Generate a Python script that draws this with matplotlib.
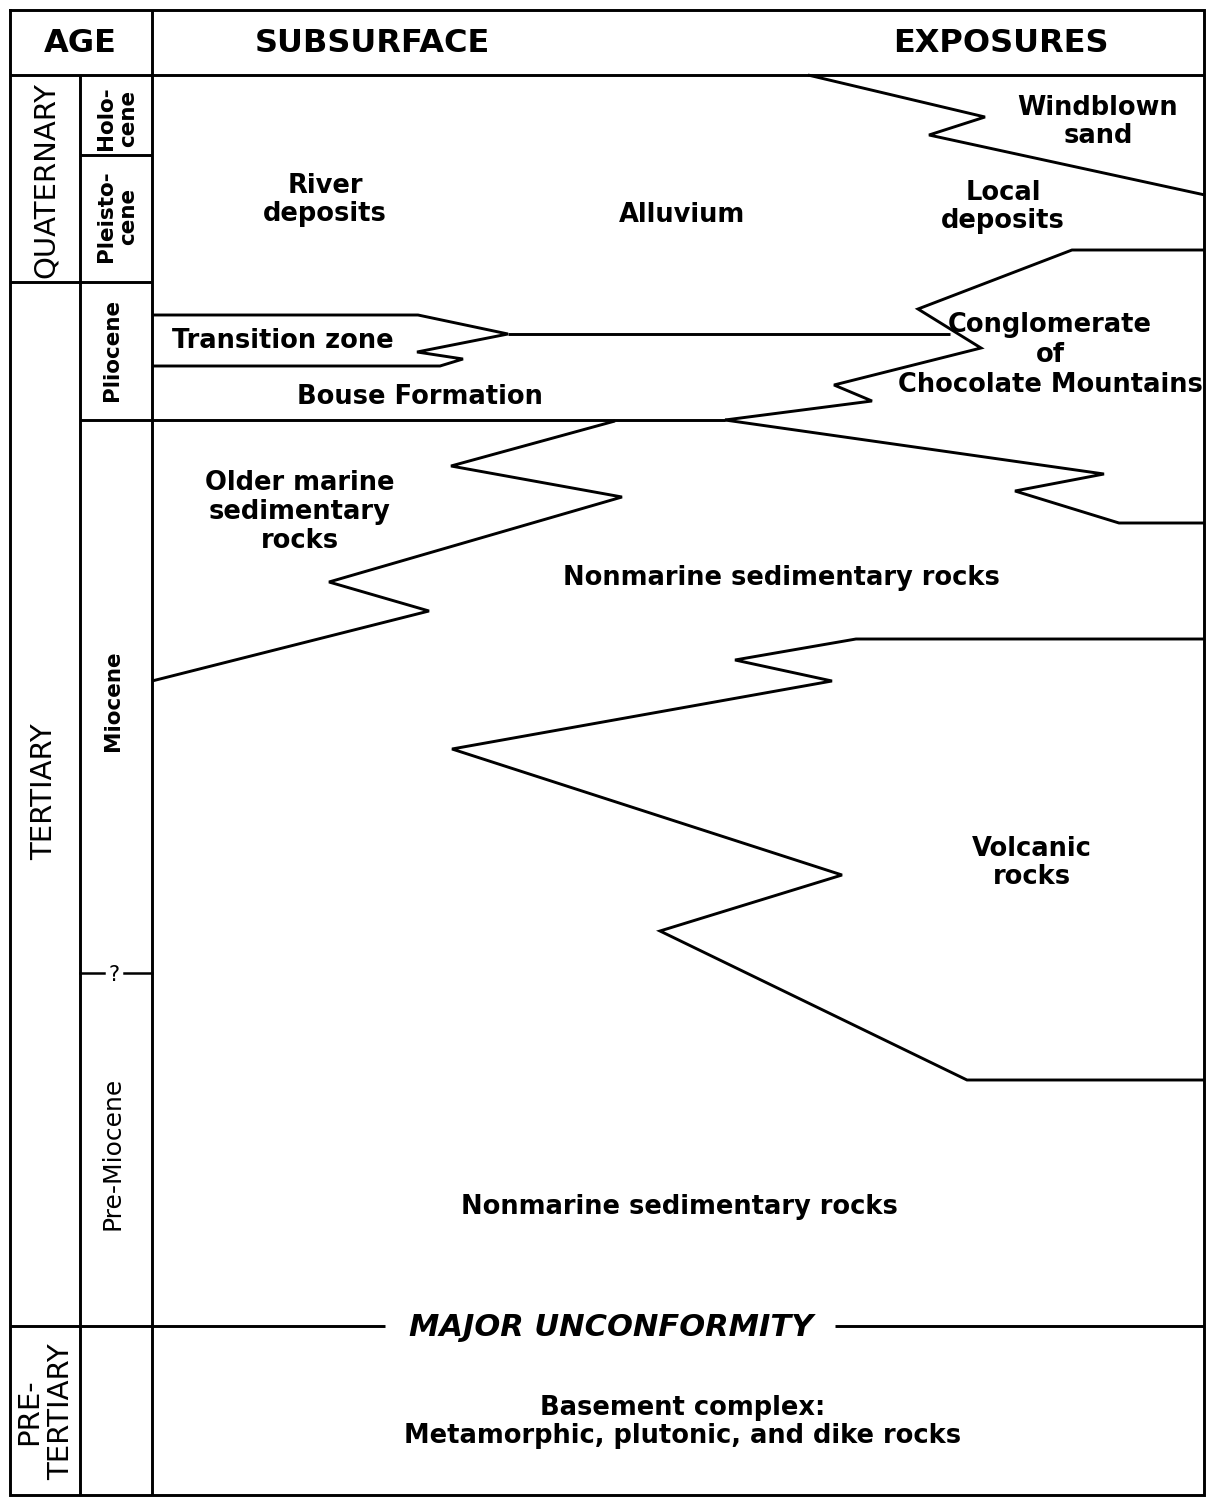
import matplotlib
matplotlib.use("Agg")
import matplotlib.pyplot as plt

# ---------------- data (pixel coordinates) ----------------
# frame / column dividers
frame_x = [10, 1204, 1204, 10, 10]
frame_y = [10, 10, 1495, 1495, 10]
header_base_y = 75
age_col_x = 152
epoch_col_x = 80

# age boundaries (y positions)
holo_pleisto_y = 155
quat_tert_y = 282
plio_mio_y = 420
mio_premio_y = 973
unconformity_y = 1326
unconf_left_end = 385
unconf_right_start = 835

# contact lines (x list, y list)
windblown_x = [808, 985, 929, 1205]
windblown_y = [75, 117, 135, 195]

local_base_x = [1205, 1072, 918, 981, 834, 872, 725]
local_base_y = [250, 250, 309, 348, 385, 401, 420]

transition_x = [152, 418, 508, 417, 463, 440, 152]
transition_y = [315, 315, 334, 352, 359, 366, 366]

transition_ext_x = [508, 950]
transition_ext_y = [334, 334]

bouse_base_x = [152, 725]
bouse_base_y = [420, 420]

congl_base_x = [725, 1104, 1015, 1119, 1205]
congl_base_y = [420, 474, 491, 523, 523]

marine_x = [615, 451, 622, 329, 429, 152]
marine_y = [421, 466, 497, 582, 611, 681]

volcanic_x = [1205, 856, 735, 832, 452, 842, 660, 967, 1205]
volcanic_y = [639, 639, 660, 681, 749, 875, 931, 1080, 1080]

# labels
header_labels = ["AGE", "SUBSURFACE", "EXPOSURES"]
header_x = [80, 372, 1001]

unit_labels = ["River\ndeposits", "Alluvium", "Windblown\nsand", "Local\ndeposits",
               "Conglomerate\nof\nChocolate Mountains", "Transition zone",
               "Bouse Formation", "Older marine\nsedimentary\nrocks",
               "Nonmarine sedimentary rocks", "Volcanic\nrocks",
               "Nonmarine sedimentary rocks",
               "Basement complex:\nMetamorphic, plutonic, and dike rocks"]
unit_x = [325, 682, 1098, 1003, 1050, 283, 420, 300, 781, 1032, 679, 683]
unit_y = [200, 215, 122, 207, 355, 341, 397, 512, 578, 863, 1207, 1422]
unit_spacing = [1.12, 1.12, 1.12, 1.12, 1.22, 1.12, 1.12, 1.15, 1.12, 1.12, 1.12, 1.12]

era_labels = ["QUATERNARY", "TERTIARY", "PRE-\nTERTIARY"]
era_x = [46, 44, 45]
era_y = [180, 792, 1412]

epoch_labels = ["Holo-\ncene", "Pleisto-\ncene", "Pliocene", "Miocene"]
epoch_x = [117, 117, 112, 113]
epoch_y = [118, 216, 350, 701]

# ---------------- drawing ----------------
plt.rcParams['font.family'] = ['DejaVu Sans']
fig = plt.figure(figsize=(12.06, 14.98), dpi=100)
ax = fig.add_axes([0, 0, 1, 1])
ax.set_xlim(0, 1206)
ax.set_ylim(1498, 0)
ax.axis('off')

LW = 2.1
kw = dict(color='black', lw=LW, solid_joinstyle='miter', solid_capstyle='butt')

ax.plot(frame_x, frame_y, color='black', lw=LW, solid_joinstyle='miter')
ax.plot([10, 1204], [header_base_y, header_base_y], **kw)
ax.plot([age_col_x, age_col_x], [10, 1495], **kw)
ax.plot([epoch_col_x, epoch_col_x], [header_base_y, 1495], **kw)
ax.plot([epoch_col_x, age_col_x], [holo_pleisto_y] * 2, **kw)
ax.plot([10, age_col_x], [quat_tert_y] * 2, **kw)
ax.plot([epoch_col_x, age_col_x], [plio_mio_y] * 2, **kw)
ax.plot([epoch_col_x, 104], [mio_premio_y] * 2, color='black', lw=1.8)
ax.plot([124, age_col_x], [mio_premio_y] * 2, color='black', lw=1.8)
ax.text(114, mio_premio_y + 2, "?", ha='center', va='center', fontsize=15)

ax.plot([10, unconf_left_end], [unconformity_y] * 2, **kw)
ax.plot([unconf_right_start, 1204], [unconformity_y] * 2, **kw)
ax.text((unconf_left_end + unconf_right_start) / 2 + 1, unconformity_y + 2,
        "MAJOR UNCONFORMITY", ha='center', va='center', fontsize=22,
        style='italic', fontweight='bold')

for xs, ys in [(windblown_x, windblown_y), (local_base_x, local_base_y),
               (transition_x, transition_y), (transition_ext_x, transition_ext_y),
               (bouse_base_x, bouse_base_y), (congl_base_x, congl_base_y),
               (marine_x, marine_y), (volcanic_x, volcanic_y)]:
    ax.plot(xs, ys, **kw)

for lab, x in zip(header_labels, header_x):
    ax.text(x, 44, lab, ha='center', va='center', fontsize=23, fontweight='bold')

for lab, x, y, ls in zip(unit_labels, unit_x, unit_y, unit_spacing):
    ax.text(x, y, lab, ha='center', va='center', fontsize=18.5, fontweight='bold',
            linespacing=ls, multialignment='center')

for lab, x, y in zip(era_labels, era_x, era_y):
    ax.text(x, y, lab, ha='center', va='center', fontsize=21, rotation=90,
            linespacing=1.15, multialignment='center')

for lab, x, y in zip(epoch_labels, epoch_x, epoch_y):
    ax.text(x, y, lab, ha='center', va='center', fontsize=15.5, fontweight='bold',
            rotation=90, linespacing=1.1, multialignment='center')

ax.text(112, 1153, "Pre-Miocene", ha='center', va='center', fontsize=18, rotation=90)

fig.savefig("out.png", dpi=100, facecolor='white')
